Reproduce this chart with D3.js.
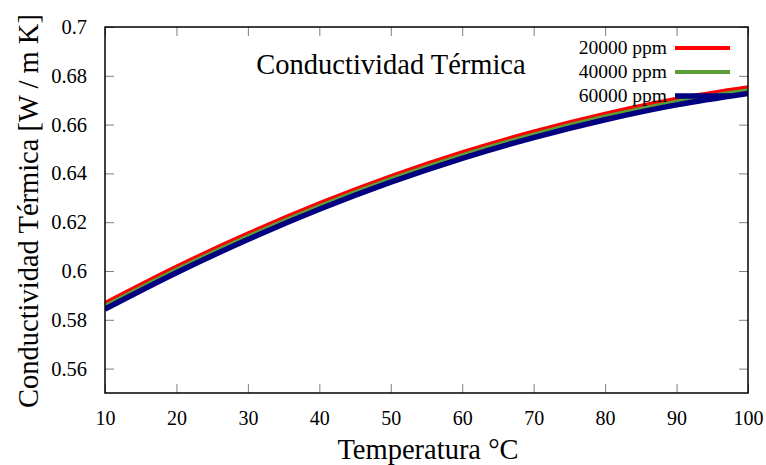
<!DOCTYPE html>
<html>
<head>
<meta charset="utf-8">
<script src="https://cdn.jsdelivr.net/npm/d3@7"></script>
<style>
  html, body { margin: 0; padding: 0; background: #fff; }
  svg text { font-family: "Liberation Serif", "Times New Roman", serif; fill: #000; }
</style>
</head>
<body>
<svg id="chart" width="766" height="465"></svg>
<script>
// Temperature (°C) and thermal conductivity (W / m K) for three concentrations
const temperatures = [10, 20, 30, 40, 50, 60, 70, 80, 90, 100];
const k20000 = [0.5870, 0.6019, 0.6155, 0.6279, 0.6390, 0.6488, 0.6573, 0.6646, 0.6707, 0.6754];
const k40000 = [0.5858, 0.6007, 0.6143, 0.6267, 0.6378, 0.6476, 0.6561, 0.6634, 0.6695, 0.6742];
const k60000 = [0.5844, 0.5993, 0.6129, 0.6253, 0.6364, 0.6462, 0.6547, 0.6620, 0.6681, 0.6728];
const seriesNames = ["20000 ppm", "40000 ppm", "60000 ppm"];
const xTicks = [10, 20, 30, 40, 50, 60, 70, 80, 90, 100];
const yTicks = [0.56, 0.58, 0.6, 0.62, 0.64, 0.66, 0.68, 0.7];

const series = [
  { name: seriesNames[0], values: k20000, color: "#ff0000", width: 3.5 },
  { name: seriesNames[1], values: k40000, color: "#5b9e35", width: 3.5 },
  { name: seriesNames[2], values: k60000, color: "#000080", width: 5.5 }
];

const svg = d3.select("#chart");
const plot = { left: 105, right: 748, top: 27, bottom: 393 };

const x = d3.scaleLinear().domain([10, 100]).range([plot.left, plot.right]);
const y = d3.scaleLinear().domain([0.55, 0.7]).range([plot.bottom, plot.top]);

const tickLen = 9;
const tickColor = "#7f7f7f";

// Axes with inward ticks on all four sides
const fmtY = d => String(+d.toFixed(2));
svg.append("g")
  .attr("transform", `translate(0,${plot.bottom})`)
  .call(d3.axisBottom(x).tickValues(xTicks).tickSizeInner(-tickLen).tickSizeOuter(0).tickPadding(18))
  .call(g => g.select(".domain").remove())
  .call(g => g.selectAll("line").attr("stroke", tickColor))
  .call(g => g.selectAll("text").attr("font-size", 20).attr("font-family", "Liberation Serif"));

svg.append("g")
  .attr("transform", `translate(0,${plot.top})`)
  .call(d3.axisTop(x).tickValues(xTicks).tickSizeInner(-tickLen).tickSizeOuter(0).tickFormat(""))
  .call(g => g.select(".domain").remove())
  .call(g => g.selectAll("line").attr("stroke", tickColor));

svg.append("g")
  .attr("transform", `translate(${plot.left},0)`)
  .call(d3.axisLeft(y).tickValues(yTicks).tickSizeInner(-tickLen).tickSizeOuter(0).tickPadding(18).tickFormat(fmtY))
  .call(g => g.select(".domain").remove())
  .call(g => g.selectAll("line").attr("stroke", tickColor))
  .call(g => g.selectAll("text").attr("font-size", 20.5).attr("font-family", "Liberation Serif"));

svg.append("g")
  .attr("transform", `translate(${plot.right},0)`)
  .call(d3.axisRight(y).tickValues(yTicks).tickSizeInner(-tickLen).tickSizeOuter(0).tickFormat(""))
  .call(g => g.select(".domain").remove())
  .call(g => g.selectAll("line").attr("stroke", tickColor));

// Curves, clipped to the plotting area
svg.append("clipPath").attr("id", "plot-clip")
  .append("rect")
  .attr("x", plot.left).attr("y", plot.top)
  .attr("width", plot.right - plot.left).attr("height", plot.bottom - plot.top);

const line = d3.line()
  .x((d, i) => x(temperatures[i]))
  .y(d => y(d))
  .curve(d3.curveMonotoneX);

const curves = svg.append("g").attr("clip-path", "url(#plot-clip)");
series.forEach(s => {
  curves.append("path")
    .attr("d", line(s.values))
    .attr("fill", "none")
    .attr("stroke", s.color)
    .attr("stroke-width", s.width);
});

// Frame
svg.append("rect")
  .attr("x", plot.left).attr("y", plot.top)
  .attr("width", plot.right - plot.left).attr("height", plot.bottom - plot.top)
  .attr("fill", "none").attr("stroke", "#000").attr("stroke-width", 1.5);

// Title inside the plot
svg.append("text")
  .attr("x", 391).attr("y", 74)
  .attr("text-anchor", "middle")
  .attr("font-size", 28.5)
  .text("Conductividad Térmica");

// Legend
const legend = svg.append("g");
series.forEach((s, i) => {
  const ly = 48 + i * 24;
  legend.append("text")
    .attr("x", 667).attr("y", ly + 6)
    .attr("text-anchor", "end")
    .attr("font-size", 19.5)
    .text(s.name);
  legend.append("line")
    .attr("x1", 675).attr("x2", 730)
    .attr("y1", ly).attr("y2", ly)
    .attr("stroke", s.color)
    .attr("stroke-width", i === 2 ? 5.5 : 4);
});

// Axis titles
svg.append("text")
  .attr("x", 428).attr("y", 459)
  .attr("text-anchor", "middle")
  .attr("font-size", 28.5)
  .text("Temperatura °C");

svg.append("text")
  .attr("transform", `translate(38,${(plot.top + plot.bottom) / 2 + 1}) rotate(-90)`)
  .attr("text-anchor", "middle")
  .attr("font-size", 28.5)
  .text("Conductividad Térmica [W / m K]");
</script>
</body>
</html>
